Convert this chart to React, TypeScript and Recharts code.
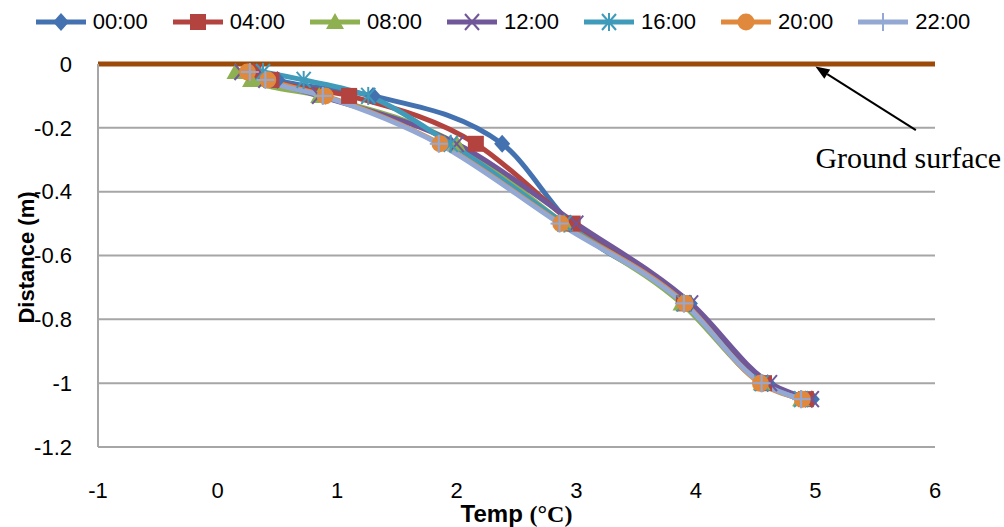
import React from 'react';
import { LineChart, Line, XAxis, YAxis, CartesianGrid, ReferenceLine, Label } from 'recharts';

// depth below the ground surface (m), same for every hour
const depths = [-0.025, -0.05, -0.1, -0.25, -0.5, -0.75, -1, -1.05];

// temperature (°C) at each depth
const temp0000 = [0.3, 0.5, 1.3, 2.38, 2.95, 3.95, 4.6, 4.97];
const temp0400 = [0.3, 0.45, 1.1, 2.16, 2.97, 3.9, 4.57, 4.92];
const temp0800 = [0.15, 0.28, 0.85, 2.0, 2.9, 3.88, 4.55, 4.88];
const temp1200 = [0.2, 0.4, 0.85, 2.0, 3.0, 3.96, 4.62, 4.97];
const temp1600 = [0.38, 0.72, 1.26, 1.95, 2.9, 3.9, 4.55, 4.88];
const temp2000 = [0.25, 0.42, 0.9, 1.86, 2.87, 3.91, 4.54, 4.89];
const temp2200 = [0.27, 0.4, 0.88, 1.85, 2.86, 3.9, 4.55, 4.88];

const xTicks = [-1, 0, 1, 2, 3, 4, 5, 6];
const yTicks = [0, -0.2, -0.4, -0.6, -0.8, -1, -1.2];

// arrow pointing at the ground line: tail, then head
const arrowSegment = [
  { x: 5.84, y: -0.207 },
  { x: 5.0, y: -0.008 },
];

type Shape = 'diamond' | 'square' | 'triangle' | 'x' | 'star' | 'circle' | 'plus';

const series: { name: string; temps: number[]; color: string; shape: Shape }[] = [
  { name: '00:00', temps: temp0000, color: '#4472b0', shape: 'diamond' },
  { name: '04:00', temps: temp0400, color: '#b2433f', shape: 'square' },
  { name: '08:00', temps: temp0800, color: '#8fb050', shape: 'triangle' },
  { name: '12:00', temps: temp1200, color: '#70579a', shape: 'x' },
  { name: '16:00', temps: temp1600, color: '#3f9bb9', shape: 'star' },
  { name: '20:00', temps: temp2000, color: '#e0893d', shape: 'circle' },
  { name: '22:00', temps: temp2200, color: '#93a9d4', shape: 'plus' },
];

const SANS = "'Liberation Sans', Arial, sans-serif";
const SERIF = "'Liberation Serif', 'Times New Roman', serif";

const Marker = ({ shape, cx, cy, color }: { shape: Shape; cx: number; cy: number; color: string }) => {
  switch (shape) {
    case 'diamond':
      return <polygon points={`${cx},${cy - 9} ${cx + 8},${cy} ${cx},${cy + 9} ${cx - 8},${cy}`} fill={color} />;
    case 'square':
      return <rect x={cx - 8} y={cy - 8} width={16} height={16} fill={color} />;
    case 'triangle':
      return <polygon points={`${cx},${cy - 9} ${cx + 9},${cy + 7} ${cx - 9},${cy + 7}`} fill={color} />;
    case 'x':
      return (
        <g stroke={color} strokeWidth={2}>
          <line x1={cx - 7} y1={cy - 8} x2={cx + 7} y2={cy + 8} />
          <line x1={cx - 7} y1={cy + 8} x2={cx + 7} y2={cy - 8} />
        </g>
      );
    case 'star':
      return (
        <g stroke={color} strokeWidth={2}>
          <line x1={cx - 7} y1={cy - 8} x2={cx + 7} y2={cy + 8} />
          <line x1={cx - 7} y1={cy + 8} x2={cx + 7} y2={cy - 8} />
          <line x1={cx} y1={cy - 9} x2={cx} y2={cy + 9} />
        </g>
      );
    case 'circle':
      return <circle cx={cx} cy={cy} r={8.5} fill={color} />;
    case 'plus':
      return (
        <g stroke={color} strokeWidth={2}>
          <line x1={cx - 9} y1={cy} x2={cx + 9} y2={cy} />
          <line x1={cx} y1={cy - 9} x2={cx} y2={cy + 9} />
        </g>
      );
  }
  return null;
};

const ArrowShape = (p: any) => {
  const { x1, y1, x2, y2 } = p;
  const ang = Math.atan2(y2 - y1, x2 - x1);
  const len = 14;
  const w = 5.5;
  const bx = x2 - len * Math.cos(ang);
  const by = y2 - len * Math.sin(ang);
  const pts = `${x2},${y2} ${bx + w * Math.sin(ang)},${by - w * Math.cos(ang)} ${bx - w * Math.sin(ang)},${by + w * Math.cos(ang)}`;
  return (
    <g>
      <line x1={x1} y1={y1} x2={bx} y2={by} stroke="#000" strokeWidth={2} />
      <polygon points={pts} fill="#000" />
      <text x={x2} y={y1 + 38} fontFamily={SERIF} fontSize={30} fill="#000">
        Ground surface
      </text>
    </g>
  );
};

const Legend = () => (
  <div
    style={{
      position: 'absolute',
      left: 0,
      top: 0,
      width: 1004,
      height: 44,
      display: 'flex',
      justifyContent: 'center',
      alignItems: 'center',
      fontFamily: SANS,
      fontSize: 22,
    }}
  >
    {series.map((s, i) => (
      <div key={s.name} style={{ display: 'flex', alignItems: 'center', marginRight: i < series.length - 1 ? 23 : 0 }}>
        <svg width={54} height={26}>
          <line x1={2} y1={13} x2={52} y2={13} stroke={s.color} strokeWidth={5} />
          <Marker shape={s.shape} cx={27} cy={13} color={s.color} />
        </svg>
        <span style={{ marginLeft: 5 }}>{s.name}</span>
      </div>
    ))}
  </div>
);

const App: React.FC = () => {
  const tickStyle = { fontSize: 22, fill: '#000', fontFamily: SANS };
  return (
    <div style={{ position: 'absolute', left: 0, top: 0, width: 1004, height: 527, background: '#fff' }}>
      <LineChart width={1004} height={527} margin={{ top: 64, right: 69, bottom: 0, left: 0 }}>
        <CartesianGrid vertical={false} stroke="#a6a6a6" strokeWidth={2} />
        <XAxis
          type="number"
          dataKey="t"
          domain={[-1, 6]}
          ticks={xTicks}
          height={80}
          axisLine={false}
          tickLine={false}
          tickSize={0}
          tickMargin={35}
          tick={tickStyle}
        >
          <Label
            content={({ viewBox }: any) => (
              <text x={viewBox.x + viewBox.width / 2} y={viewBox.y + 75} textAnchor="middle" fontSize={24} fontWeight="bold">
                <tspan fontFamily={SANS}>Temp </tspan>
                <tspan fontFamily={SERIF}>(°C)</tspan>
              </text>
            )}
          />
        </XAxis>
        <YAxis
          type="number"
          dataKey="d"
          domain={[-1.2, 0]}
          ticks={yTicks}
          width={98}
          axisLine={{ stroke: '#a6a6a6', strokeWidth: 2 }}
          tickLine={false}
          tickSize={0}
          tickMargin={26}
          tick={tickStyle}
        >
          <Label
            content={({ viewBox }: any) => {
              const cx = 34;
              const cy = viewBox.y + viewBox.height / 2 + 2;
              return (
                <text
                  x={cx}
                  y={cy}
                  transform={`rotate(-90, ${cx}, ${cy})`}
                  textAnchor="middle"
                  fontFamily={SANS}
                  fontSize={22}
                  fontWeight="bold"
                >
                  Distance (m)
                </text>
              );
            }}
          />
        </YAxis>
        {series.map((s) => (
          <Line
            key={s.name}
            name={s.name}
            data={s.temps.map((t, i) => ({ t, d: depths[i] }))}
            dataKey="d"
            type="monotone"
            stroke={s.color}
            strokeWidth={5}
            dot={(p: any) => <Marker key={`${s.name}-${p.index}`} shape={s.shape} cx={p.cx} cy={p.cy} color={s.color} />}
            activeDot={false}
            isAnimationActive={false}
          />
        ))}
        <ReferenceLine y={0} stroke="#9c4a0a" strokeWidth={5} />
        <ReferenceLine segment={arrowSegment} shape={ArrowShape} />
      </LineChart>
      <Legend />
    </div>
  );
};

export default App;
